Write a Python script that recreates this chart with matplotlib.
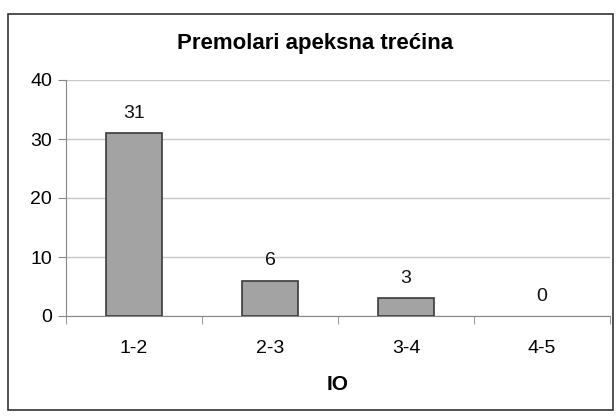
import matplotlib
matplotlib.use("Agg")
import matplotlib.pyplot as plt
from matplotlib.patches import Rectangle

categories = ["1-2", "2-3", "3-4", "4-5"]
values = [31, 6, 3, 0]
yticks = [0, 10, 20, 30, 40]
title = "Premolari apeksna trećina"
xlabel = "IO"

plt.rcParams['font.family'] = ['Liberation Sans', 'DejaVu Sans']

W, H = 616, 416
fig = plt.figure(figsize=(W/100, H/100), dpi=100)
ax = fig.add_axes([66/W, 1-316/H, (610-66)/W, (316-80)/H])

x = list(range(len(categories)))
bars = ax.bar(x, values, width=0.41, color="#a3a3a3", edgecolor="#3a3a3a",
              linewidth=[1.2 if v > 0 else 0 for v in values], zorder=3)
for xi, v in zip(x, values):
    ax.annotate(str(v), (xi, v), xytext=(0, 8), textcoords="offset points",
                ha="center", va="bottom", fontsize=14, color="#111111")

ax.set_xlim(-0.5, len(categories)-0.5)
ax.set_ylim(0, 40)
ax.set_yticks(yticks)
ax.set_yticklabels([str(t) for t in yticks], fontsize=14)
ax.yaxis.grid(True, color="#c8c8c8", linewidth=1.0, zorder=0)
ax.set_xticks(x)
ax.set_xticklabels(categories, fontsize=14)
ax.set_xticks([i + 0.5 for i in x[:-1]] + [-0.5, len(categories)-0.5], minor=True)
ax.tick_params(axis="x", which="major", length=0, pad=17)
ax.tick_params(axis="x", which="minor", length=6, color="#888888")
ax.tick_params(axis="y", length=6, color="#888888", pad=4)
for s in ["top", "right"]:
    ax.spines[s].set_visible(False)
for s in ["left", "bottom"]:
    ax.spines[s].set_color("#888888")
ax.set_xlabel(xlabel, fontsize=15, fontweight="bold", labelpad=13)

fig.text(315/W, 1-44/H, title, ha="center", va="center", fontsize=16, fontweight="bold")

fig.patches.append(Rectangle((8/W, 1-410/H), (613-8)/W, (410-14)/H, transform=fig.transFigure,
                             fill=False, edgecolor="#333333", linewidth=1.2))

fig.savefig("out.png", dpi=100)
